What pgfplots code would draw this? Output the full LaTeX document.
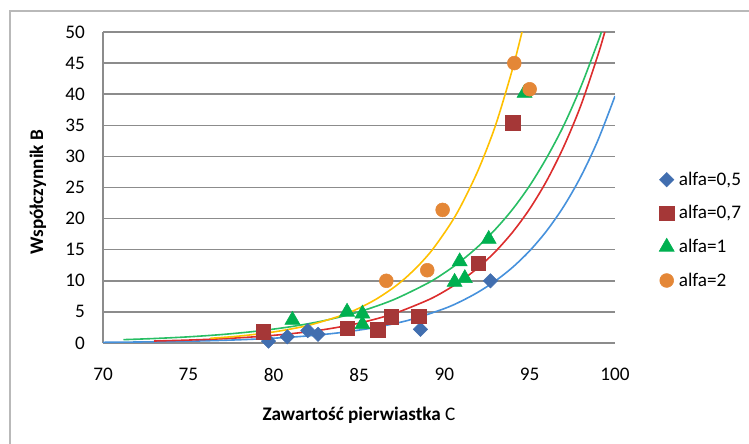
\documentclass[border=0pt]{standalone}
\usepackage{fontspec}
\setmainfont{Carlito}
\usepackage{pgfplots}
\pgfplotsset{compat=1.18}
\definecolor{blueM}{RGB}{65,110,175}
\definecolor{redM}{RGB}{165,55,55}
\definecolor{greenM}{RGB}{0,176,80}
\definecolor{orangeM}{RGB}{228,135,55}
\definecolor{yellowL}{RGB}{255,192,0}
\definecolor{greenL}{RGB}{40,190,100}
\definecolor{redL}{RGB}{220,45,45}
\definecolor{blueL}{RGB}{70,145,220}
\definecolor{gridc}{RGB}{140,140,140}
\definecolor{framec}{RGB}{185,185,185}
\newcommand{\fs}{\fontsize{14.4}{17}\selectfont}
\pgfplotsset{
  mk/.style={only marks, legend image code/.code={\draw[##1] plot coordinates {(0.2cm,0cm)};}},
}
\begin{document}
\begin{tikzpicture}[x=0.75pt,y=0.75pt]
\useasboundingbox (0,0) rectangle (749,443);
\draw[framec, line width=1.1pt] (10,-20) -- (10,432) -- (770,432);
\begin{axis}[
  at={(77.25pt,75pt)}, anchor=south west,
  scale only axis, width=384pt, height=233.25pt,
  xmin=70, xmax=100, ymin=0, ymax=50,
  xtick={70,75,...,100}, ytick={0,5,...,50},
  axis x line*=bottom, axis y line*=left,
  axis line style={gridc, line width=1.1pt, -},
  ymajorgrids, grid style={gridc, line width=1.1pt},
  major tick length=0pt,
  tick label style={font=\fs},
  /pgf/number format/assume math mode=true,
  xticklabel style={yshift=-15.5pt},
  yticklabel style={xshift=-10pt},
  xlabel={\textbf{Zawartość pierwiastka} C},
  ylabel={\textbf{Współczynnik B}},
  label style={font=\fs},
  xlabel style={at={(axis description cs:0.5,-0.2315)}, anchor=center},
  ylabel style={at={(axis description cs:-0.127,0.4855)}, anchor=center},
  legend style={at={(1.078,0.363)}, anchor=west, draw=none, fill=none, font=\fs,
    row sep=9.7pt, column sep=1.5pt},
  legend cell align=left,
]
\addplot[mk, mark=square*, mark options={rotate=45}, mark size=3.8pt, color=blueM] coordinates {
  (79.7,0.3) (80.8,1.0) (82.0,2.0) (82.6,1.4) (88.6,2.2) (92.7,10.0)};
\addlegendentry{alfa=0,5}
\addplot[mk, mark=square*, mark size=5.4pt, color=redM] coordinates {
  (79.4,1.8) (84.3,2.4) (86.1,2.1) (86.9,4.2) (88.5,4.3) (92.0,12.8) (94.0,35.4)};
\addlegendentry{alfa=0,7}
\addplot[mk, mark=triangle*, mark size=6.5pt, color=greenM] coordinates {
  (81.1,3.7) (84.3,5.0) (85.2,3.0) (85.2,4.7) (90.6,9.8) (90.9,13.1) (91.2,10.4) (92.6,16.7) (94.7,40.2)};
\addlegendentry{alfa=1}
\addplot[mk, mark=*, mark size=5.2pt, color=orangeM] coordinates {
  (86.6,10.0) (89.0,11.7) (89.9,21.4) (94.1,45.0) (95.0,40.8)};
\addlegendentry{alfa=2}
% trend lines
\addplot[blueL, line width=1.2pt, smooth, forget plot] coordinates {
  (70,0.11) (72,0.16) (74,0.24) (76,0.35) (78,0.52) (80,0.77) (82,1.14) (84,1.70)
  (86,2.52) (88,3.73) (90,5.53) (91,6.74) (92,8.21) (93,10.0) (94,12.17) (95,14.82)
  (96,18.05) (97,21.98) (98,26.77) (99,32.6) (100,39.7)};
\addplot[redL, line width=1.2pt, smooth, forget plot] coordinates {
  (73,0.32) (75,0.47) (77,0.69) (79,1.02) (81,1.49) (83,2.18) (85,3.19) (87,4.68)
  (89,6.86) (90,8.30) (91,10.05) (92,12.16) (93,14.72) (94,17.82) (95,21.56)
  (96,26.1) (97,31.6) (98,38.2) (99,46.3) (99.4,50.0)};
\addplot[greenL, line width=1.2pt, smooth, forget plot] coordinates {
  (71.2,0.54) (73,0.72) (75,0.99) (77,1.37) (79,1.90) (81,2.62) (83,3.62) (85,5.01)
  (87,6.93) (89,9.58) (90,11.26) (91,13.24) (92,15.57) (93,18.31) (94,21.5)
  (95,25.3) (96,29.8) (97,35.0) (98,41.2) (99,48.4) (99.2,50.0)};
\addplot[yellowL, line width=1.2pt, smooth, forget plot] coordinates {
  (76.3,0.76) (78,1.12) (80,1.78) (82,2.81) (84,4.45) (85,5.6) (86,7.04) (87,8.86)
  (87.7,10.4) (88.5,12.5) (89.3,15.0) (90.3,18.9) (91,22.2) (92,27.9) (93,35.0)
  (94,44.1) (94.55,50.0)};
\end{axis}
\end{tikzpicture}
\end{document}
